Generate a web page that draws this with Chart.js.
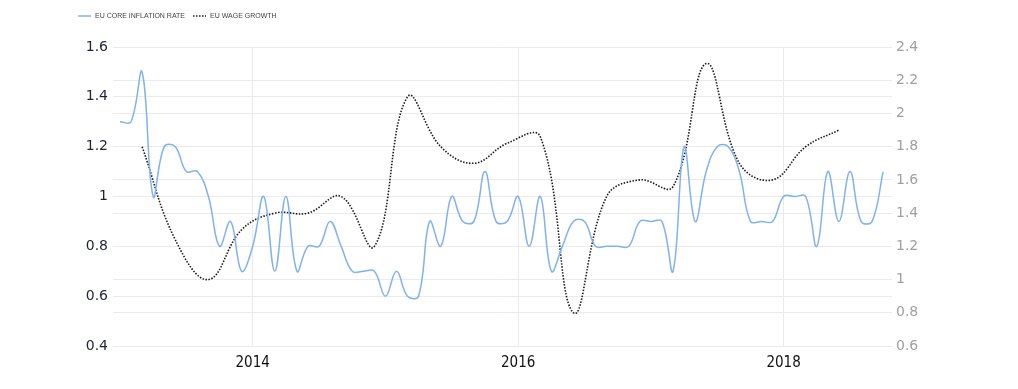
<!DOCTYPE html>
<html>
<head>
<meta charset="utf-8">
<script src="https://cdn.jsdelivr.net/npm/chart.js@4.4.1/dist/chart.umd.min.js"></script>
<style>
  html, body { margin: 0; padding: 0; background: #fff; }
  #chart { display: block; }
</style>
</head>
<body>
<canvas id="chart" width="1018" height="389"></canvas>
<script>
// Datos mensuales de inflación subyacente (enero 2013 - octubre 2018)
const inflationStart = [2013, 1];
const inflationValues = [
  1.3, 1.3, 1.5, 1.0, 1.2, 1.2, 1.1, 1.1, 1.0, 0.8, 0.9, 0.7,
  0.8, 1.0, 0.7, 1.0, 0.7, 0.8, 0.8, 0.9, 0.8, 0.7, 0.7, 0.7,
  0.6, 0.7, 0.6, 0.6, 0.9, 0.8, 1.0, 0.9, 0.9, 1.1, 0.9, 0.9,
  1.0, 0.8, 1.0, 0.7, 0.8, 0.9, 0.9, 0.8, 0.8, 0.8, 0.8, 0.9,
  0.9, 0.9, 0.7, 1.2, 0.9, 1.1, 1.2, 1.2, 1.1, 0.9, 0.9, 0.9,
  1.0, 1.0, 1.0, 0.8, 1.1, 0.9, 1.1, 0.9, 0.9, 1.1
];

// Datos trimestrales de crecimiento salarial (T1 2013 - T2 2018)
const wageQuarters = [
  '2013Q1', '2013Q2', '2013Q3', '2013Q4',
  '2014Q1', '2014Q2', '2014Q3', '2014Q4',
  '2015Q1', '2015Q2', '2015Q3', '2015Q4',
  '2016Q1', '2016Q2', '2016Q3', '2016Q4',
  '2017Q1', '2017Q2', '2017Q3', '2017Q4',
  '2018Q1', '2018Q2'
];
const wageValues = [
  1.8, 1.24, 1.0, 1.3,
  1.4, 1.4, 1.5, 1.2,
  2.1, 1.8, 1.7, 1.82,
  1.86, 0.8, 1.5, 1.6,
  1.56, 2.3, 1.7, 1.6,
  1.8, 1.9
];

const xTicks = [2014, 2016, 2018];
const leftTicks = [0.4, 0.6, 0.8, 1, 1.2, 1.4, 1.6];
const rightTicks = [0.6, 0.8, 1, 1.2, 1.4, 1.6, 1.8, 2, 2.2, 2.4];

// Convertir mes / trimestre en año decimal
function monthToX(i) {
  return inflationStart[0] + (inflationStart[1] - 1 + i) / 12;
}
function quarterToX(q) {
  const year = parseInt(q.slice(0, 4), 10);
  const quarter = parseInt(q.slice(5), 10);
  return year + (quarter * 3 - 1) / 12;
}

const inflationData = inflationValues.map((v, i) => ({ x: monthToX(i), y: v }));
const wageData = wageValues.map((v, i) => ({ x: quarterToX(wageQuarters[i]), y: v }));

// Leyenda dibujada a mano arriba a la izquierda
const legendPlugin = {
  id: 'topLegend',
  afterDraw(chart) {
    const ctx = chart.ctx;
    const items = [
      { label: 'EU CORE INFLATION RATE', ds: chart.data.datasets[0], x: 78 },
      { label: 'EU WAGE GROWTH', ds: chart.data.datasets[1], x: 193 }
    ];
    ctx.save();
    ctx.font = '7px "Liberation Sans", Arial, sans-serif';
    ctx.textBaseline = 'middle';
    items.forEach(item => {
      ctx.strokeStyle = item.ds.borderColor;
      ctx.lineWidth = item.ds.borderWidth;
      ctx.setLineDash(item.ds.borderDash || []);
      ctx.beginPath();
      ctx.moveTo(item.x, 16);
      ctx.lineTo(item.x + 13, 16);
      ctx.stroke();
      ctx.setLineDash([]);
      ctx.fillStyle = '#444';
      ctx.fillText(item.label, item.x + 17, 16);
    });
    ctx.restore();
  }
};

const ctx = document.getElementById('chart').getContext('2d');
new Chart(ctx, {
  type: 'line',
  data: {
    datasets: [{
      label: 'EU CORE INFLATION RATE',
      data: inflationData,
      yAxisID: 'y',
      borderColor: '#7fb2ef',
      borderWidth: 1.5,
      pointRadius: 0,
      tension: 0.4,
      fill: false
    }, {
      label: 'EU WAGE GROWTH',
      data: wageData,
      yAxisID: 'y1',
      borderColor: '#1a1a1a',
      borderWidth: 1.6,
      borderDash: [1.5, 1.5],
      pointRadius: 0,
      tension: 0.4,
      fill: false
    }]
  },
  options: {
    responsive: false,
    animation: false,
    layout: { padding: { top: 47, left: 0, right: 0, bottom: 0 } },
    plugins: {
      legend: { display: false },
      tooltip: { enabled: false }
    },
    scales: {
      x: {
        type: 'linear',
        min: monthToX(-0.63),
        max: monthToX(69.8),
        afterBuildTicks: scale => { scale.ticks = xTicks.map(v => ({ value: v })); },
        afterFit: scale => { scale.height = 43; },
        grid: { color: '#ebebeb', drawTicks: false },
        border: { display: false },
        ticks: {
          padding: 8,
          maxRotation: 0,
          color: '#111',
          font: { family: '"Liberation Sans Narrow", "DejaVu Sans Condensed", sans-serif', size: 15 },
          callback: v => String(v)
        }
      },
      y: {
        position: 'left',
        min: 0.4,
        max: 1.6,
        afterBuildTicks: scale => { scale.ticks = leftTicks.map(v => ({ value: v })); },
        afterFit: scale => { scale.width = 113; },
        grid: { color: '#ebebeb', drawTicks: false },
        border: { display: false },
        ticks: {
          padding: 5,
          color: '#1e2430',
          font: { family: '"DejaVu Sans", Verdana, sans-serif', size: 14 },
          callback: v => String(v)
        }
      },
      y1: {
        position: 'right',
        min: 0.6,
        max: 2.4,
        afterBuildTicks: scale => { scale.ticks = rightTicks.map(v => ({ value: v })); },
        afterFit: scale => { scale.width = 126; },
        grid: { color: '#ebebeb', drawTicks: false },
        border: { display: false },
        ticks: {
          padding: 4,
          color: '#a0a0a0',
          font: { family: '"DejaVu Sans", Verdana, sans-serif', size: 14 },
          callback: v => String(v)
        }
      }
    }
  },
  plugins: [legendPlugin]
});
</script>
</body>
</html>
